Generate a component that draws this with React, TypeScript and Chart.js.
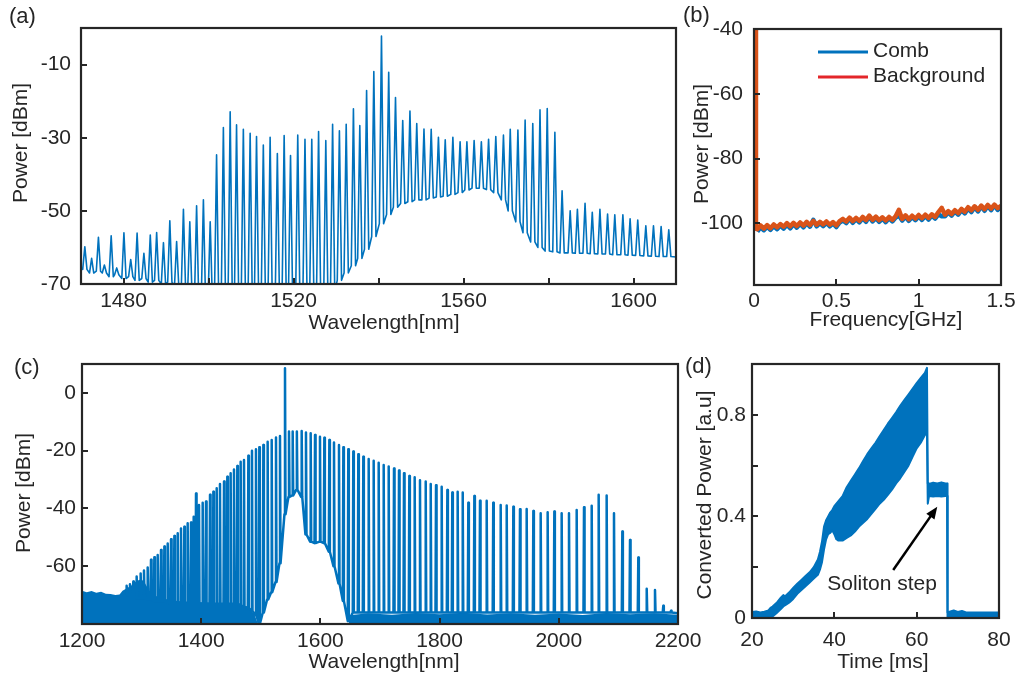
import React, { useEffect, useRef } from 'react';
import { Chart, registerables } from 'chart.js';

Chart.register(...registerables);

const BLUE = '#0072BD';
const ORANGE = '#D95319';
const RED = '#E3262A';
const INK = '#262626';
const FONT = "'Liberation Sans', Arial, Helvetica, sans-serif";

// ---------------- Panel (a): comb spectrum ----------------
const combA_nm = [1470.9,1472.5,1474.1,1475.5,1477.1,1478.4,1480.1,1481.7,1483.2,1484.8,1486.3,1487.8,1489.4,1490.9,1492.5,1494.1,1495.6,1497.2,1498.8,1500.4,
  1501.9,1503.5,1505.1,1506.6,1508.2,1509.8,1511.3,1512.9,1514.5,1516.2,1517.8,1519.3,1521.0,1522.7,1524.3,1525.9,1527.6,1529.2,1530.8,1532.4,
  1534.1,1535.6,1537.2,1538.9,1540.7,1542.4,1544.0,1545.7,1547.4,1549.0,1550.7,1552.4,1554.1,1555.7,1557.5,1559.2,1560.8,1562.5,1564.2,1565.9,1567.6,1569.4,1571.0,1572.8,1574.5,1576.3,1578.0,1579.7,1581.5,
  1583.2,1585.1,1586.8,1588.6,1590.3,1592.1,1593.9,1595.6,1597.5,1599.2,1601.0,1602.9,1604.7,1606.5,1608.3];
const combA_dBm = [-59.8,-63,-57.2,-64.8,-56.8,-65.6,-56,-63.3,-56.1,-61.6,-56.6,-55.9,-58.7,-52.7,-58.4,-49.6,-53,-48.6,-47,-53,
  -34.7,-27.2,-22.9,-26.5,-27.7,-28.8,-29.7,-32.0,-29.9,-34.3,-29.4,-34.9,-29.3,-30.4,-30.4,-28.3,-30.8,-26.3,-28.1,-26.3,
  -22.1,-26.7,-17.1,-11.9,-2.2,-12.1,-19.0,-25.3,-22.7,-26.1,-27.6,-27.7,-29.9,-30.6,-29.9,-31.1,-31.1,-30.8,-31.1,-30.4,-29.7,-29.3,-27.7,-27.9,-25.2,-26.1,-22.4,-22.0,-28.5,
  -44.5,-50.0,-49.6,-47.9,-50.4,-49.6,-50.9,-51.1,-51.1,-52.2,-52.5,-54.1,-54.1,-54.3,-55.2];
const floorA_dBm = [-66,-67,-66.5,-67,-68,-67.5,-68.5,-68,-69,-68.5,-69.5,-69,-70,-69.5,-70.5,-71,-72,-74,-74,-74,
  -74,-74,-74,-74,-74,-74,-74,-74,-74,-74,-74,-74,-74,-74,-74,-74,-74,-72,-69,-67,
  -65,-63,-60.5,-57,-53.5,-51,-49,-48,-47.5,-47,-47,-46.5,-46.2,-46,-45.5,-45,-44.3,-43.8,-43.8,-44.2,-45,-47,-50,-53,-56,-58.5,-60,-61,-61.2,
  -61.5,-61.5,-61.6,-61.6,-61.7,-61.8,-61.8,-62,-62,-62.1,-62.2,-62.3,-62.4,-62.5,-62.5];
const edgeA_nm = [1470, 1610];
const edgeA_dBm = [-65.5, -62.6];
const xTicksA = [1480, 1500, 1520, 1540, 1560, 1580, 1600];
const xLabelsA = ['1480', '', '1520', '', '1560', '', '1600'];
const yTicksA = [-70, -50, -30, -10];
const yLabelsA = ['-70', '-50', '-30', '-10'];

// ---------------- Panel (b): RF spectrum ----------------
const freqB = [0.02,0.04,0.06,0.08,0.10,0.12,0.14,0.16,0.18,0.20,0.22,0.24,0.26,0.28,0.30,0.32,0.34,0.36,0.38,0.40,
  0.42,0.44,0.46,0.48,0.50,0.52,0.54,0.56,0.58,0.60,0.62,0.64,0.66,0.68,0.70,0.72,0.74,0.76,0.78,0.80,
  0.82,0.84,0.86,0.88,0.90,0.92,0.94,0.96,0.98,1.00,1.02,1.04,1.06,1.08,1.10,1.12,1.14,1.16,1.18,1.20,
  1.22,1.24,1.26,1.28,1.30,1.32,1.34,1.36,1.38,1.40,1.42,1.44,1.46,1.48,1.50];
const backgroundB = [-101.8,-100.6,-101.6,-100.5,-101.5,-100.3,-101.2,-100.2,-101.0,-99.9,-100.9,-99.8,-100.8,-99.7,-100.7,-99.5,-100.5,-99.2,-100.4,-99.5,
  -100.3,-99.4,-100.4,-99.6,-100.6,-99.3,-98.6,-99.4,-98.2,-99.3,-98.3,-99.2,-98.0,-99.0,-97.6,-98.9,-97.9,-99.0,-98.1,-99.1,
  -98.0,-98.9,-97.8,-95.8,-98.6,-97.5,-98.7,-97.6,-98.5,-97.4,-98.4,-97.3,-98.3,-97.2,-98.0,-96.5,-95.2,-97.3,-96.2,-97.1,
  -95.9,-96.8,-95.5,-96.4,-95.0,-96.0,-94.7,-95.8,-94.5,-95.6,-94.3,-95.4,-94.2,-95.3,-94.6];
const combB = [-102.5,-101.2,-102.1,-101.0,-102.0,-100.8,-101.8,-100.6,-101.6,-100.4,-101.5,-100.2,-101.3,-100.1,-101.2,-99.9,-101.0,-98.9,-100.9,-99.9,
  -100.8,-99.8,-100.9,-100.0,-101.1,-99.7,-99.1,-99.9,-98.6,-99.8,-98.7,-99.7,-98.4,-99.5,-97.9,-99.4,-98.3,-99.5,-98.5,-99.6,
  -98.4,-99.4,-98.2,-97.5,-99.1,-97.9,-99.2,-98.0,-99.0,-97.8,-98.9,-97.7,-98.8,-97.6,-98.5,-97.2,-97.8,-97.8,-96.6,-97.6,
  -96.3,-97.3,-95.9,-96.9,-95.4,-96.5,-95.0,-96.3,-94.7,-96.1,-94.5,-95.9,-94.4,-95.8,-95.0];
const spikeB_freq = [0.01, 0.012];
const spikeB_dBm = [-40, -101.6];
const xTicksB = [0, 0.5, 1, 1.5];
const xLabelsB = ['0', '0.5', '1', '1.5'];
const yTicksB = [-100, -80, -60, -40];
const yLabelsB = ['-100', '-80', '-60', '-40'];

// ---------------- Panel (c): broadband comb ----------------
const combC_nm = [1274.9,1280.5,1286.1,1291.7,1298.4,1304.0,1310.2,1315.8,1321.4,1327.0,
  1332.6,1338.2,1343.8,1349.4,1355.0,1360.6,1366.1,1371.7,1377.3,1382.9,
  1387.4,1391.3,1396.3,1402.5,1408.1,1414.8,1420.4,1426.0,1431.5,1438.3,
  1443.8,1449.4,1455.0,1460.6,1466.2,1471.8,1479.1,1485.2,1491.9,1497.5,
  1504.3,1511.5,1518.3,1525.5,1532.2,1540.6,1547.3,1553.5,1560.5,1568.6,
  1575.8,1583.7,1591.0,1599.3,1606.6,1615.0,1622.8,1631.2,1638.5,1646.8,
  1655.2,1663.6,1672.0,1681.0,1689.4,1697.8,1706.2,1714.6,1723.5,1731.9,
  1740.3,1749.2,1758.2,1767.1,1776.7,1785.1,1794.0,1803.5,1813.0,1821.3,
  1830.3,1838.8,1848.2,1858.3,1867.8,1879.0,1890.0,1902.5,1912.6,1923.7,
  1934.9,1946.1,1957.3,1969.6,1981.3,1992.5,2004.8,2017.1,2030.0,2042.3,
  2055.2,2066.9,2080.3,2092.6,2106.6,2119.5,2133.4,2147.5,2161.4,2175.3,
  2188.3];
const combC_dBm = [-66.8,-66.2,-65.3,-63.6,-62.5,-61.5,-60.4,-57.8,-56.9,-56.1,
  -54.4,-53.2,-52.1,-50.7,-49.5,-48.6,-46.9,-46.3,-45.1,-44.9,
  -42.9,-34.8,-38.8,-38.0,-37.6,-35.3,-34.2,-33.0,-31.5,-30.7,
  -29.0,-27.8,-26.5,-25.3,-23.8,-23.2,-21.8,-20.0,-19.5,-18.8,
  -18.0,-16.9,-16.3,-15.4,-14.9,8.5,-13.4,-13.4,-13.4,-13.2,
  -13.7,-14.0,-14.6,-15.2,-15.5,-16.3,-17.2,-18.0,-18.8,-19.5,
  -20.3,-21.2,-22.1,-22.9,-23.5,-24.2,-25.0,-25.5,-26.2,-26.9,
  -27.8,-28.8,-29.2,-30.2,-30.7,-31.5,-32.0,-32.5,-33.6,-34.5,
  -34.2,-34.5,-38.0,-35.7,-37.3,-37.3,-38.0,-38.8,-39.0,-39.4,
  -40.3,-40.2,-40.9,-41.7,-41.3,-41.1,-41.7,-41.7,-40.5,-39.6,
  -39.1,-35.3,-35.5,-41.7,-48.0,-50.9,-57.0,-67.8,-68.2,-73.7,
  -75.4];
const floorC_dBm = [-70,-70,-70.5,-71,-71,-71,-71.5,-71.5,-72,-72,
  -72,-72,-72.5,-73,-73,-73,-73,-73,-73,-73,
  -73,-73,-73,-73,-73,-73,-73,-73,-73,-73,
  -73,-73,-73,-73,-73.5,-74,-74.5,-75.5,-77,-80,
  -76,-71.5,-69,-65.5,-59,-42,-36,-35.5,-33.5,-36,
  -49,-51.5,-52,-51.5,-52,-55,-60,-66,-72,-79,
  -76,-76,-76,-76,-76,-76,-76,-76,-76,-76,
  -76,-76,-76,-76,-76,-76,-76,-76,-76,-76,
  -76,-76,-76,-76,-76,-76,-76,-76,-76,-76,
  -76,-76,-76,-76,-76,-76,-76,-76,-76,-76,
  -76,-76,-76,-76,-76,-76,-76,-76,-76,-76,
  -76];
const edgeC_nm = [2200];
const edgeC_dBm = [-76.3];
const noiseC_nm = [1200,1208,1216,1224,1232,1240,1248,1256,1263,1268,1276,1284,1292,1300,1306,1314,1330,1360,1400,1450,1470,1482,1490,1496,1497,1646,1648,1680,1720,1760,1800,1840,1880,1920,1960,2000,2040,2080,2120,2160,2200];
const noiseC_dBm = [-68.5,-69,-68.6,-69.2,-68.8,-69.5,-69.6,-70,-69.8,-68.5,-67.5,-66.5,-65,-64.5,-66,-69,-71,-72,-72.5,-73,-73.5,-75,-77,-80.5,-95,-95,-77,-76.3,-76.8,-76.2,-76.6,-76.1,-76.7,-76.3,-76.8,-76.4,-76.9,-76.2,-76.6,-76.3,-76.8];
const xTicksC = [1200, 1400, 1600, 1800, 2000, 2200];
const xLabelsC = ['1200', '1400', '1600', '1800', '2000', '2200'];
const yTicksC = [-60, -40, -20, 0];
const yLabelsC = ['-60', '-40', '-20', '0'];

// ---------------- Panel (d): converted power trace ----------------
const timeD = [20,21,22,23,24,24.5,25,26,27,27.6,28,29,30,31,32,33,34,35,36,36.5,37,37.5,38,38.5,39,39.5,40,40.5,41,42,43,44,45,46,47,48,49,50,51,52,53,54,55,56,57,58,59,60,61,62,62.5,62.7,62.8,63,64,65,66,67,67.4,67.5,68,69,70,71,72,75,80];
const upperD = [0.024,0.026,0.022,0.025,0.03,0.04,0.045,0.06,0.08,0.09,0.085,0.1,0.118,0.135,0.15,0.165,0.18,0.2,0.23,0.26,0.3,0.36,0.385,0.4,0.415,0.425,0.44,0.45,0.46,0.48,0.515,0.54,0.565,0.59,0.618,0.645,0.668,0.69,0.715,0.74,0.765,0.787,0.81,0.835,0.858,0.88,0.902,0.925,0.945,0.965,0.985,0.53,0.532,0.528,0.533,0.53,0.534,0.53,0.53,0.022,0.025,0.03,0.024,0.028,0.022,0.022,0.022];
const lowerD = [0.004,0.005,0.003,0.005,0.002,0.0,0.006,0.02,0.035,0.045,0.05,0.06,0.075,0.095,0.11,0.125,0.14,0.155,0.17,0.19,0.22,0.27,0.31,0.33,0.335,0.345,0.33,0.31,0.305,0.305,0.315,0.325,0.34,0.36,0.375,0.39,0.41,0.43,0.45,0.465,0.485,0.505,0.53,0.55,0.575,0.6,0.635,0.668,0.69,0.72,0.73,0.45,0.46,0.48,0.478,0.48,0.478,0.48,0.48,0.0,0.005,0.008,0.005,0.006,0.005,0.005,0.005];
const arrowD = { tail: [54.3, 0.189], head: [65.0, 0.438] };
const noteD = { text: 'Soliton step', at: [51.6, 0.134] };
const xTicksD = [20, 40, 60, 80];
const xLabelsD = ['20', '40', '60', '80'];
const yTicksD = [0, 0.2, 0.4, 0.6, 0.8];
const yLabelsD = ['0', '', '0.4', '', '0.8'];

// ---------------- helpers ----------------
type Pt = { x: number; y: number };
function spikes(pos: number[], peak: number[], floor: number[], half: number): Pt[] {
  const out: Pt[] = [];
  pos.forEach((p, i) => {
    out.push({ x: p - half, y: floor[i] });
    out.push({ x: p, y: peak[i] });
    out.push({ x: p + half, y: floor[i] });
  });
  return out;
}
function zipPts(xs: number[], ys: number[]): Pt[] {
  return xs.map((x, i) => ({ x, y: ys[i] }));
}

type Txt = { text: string; x: number; y: number; rot?: number; align?: CanvasTextAlign; size?: number };

interface Spec {
  left: number; top: number; width: number; height: number;
  area: { l: number; t: number; r: number; b: number };
  xMin: number; xMax: number; yMin: number; yMax: number;
  xTicks: number[]; xLabels: string[]; yTicks: number[]; yLabels: string[];
  xPad: number; yPad: number;
  datasets: any[];
  texts: Txt[];
  extra?: (chart: any) => void;
}

function drawText(ctx: CanvasRenderingContext2D, t: Txt) {
  ctx.save();
  ctx.translate(t.x, t.y);
  if (t.rot) ctx.rotate(t.rot);
  ctx.font = `${t.size || 21}px ${FONT}`;
  ctx.fillStyle = INK;
  ctx.textAlign = t.align || 'center';
  ctx.textBaseline = 'middle';
  ctx.fillText(t.text, 0, 0);
  ctx.restore();
}

function buildConfig(s: Spec): any {
  const decor = {
    id: 'decor',
    afterDraw(chart: any) {
      const { ctx, chartArea: a, scales } = chart;
      ctx.save();
      ctx.strokeStyle = INK;
      ctx.lineWidth = 2;
      ctx.beginPath();
      scales.x.ticks.forEach((t: any) => {
        const px = Math.round(scales.x.getPixelForValue(t.value));
        ctx.moveTo(px, a.bottom);
        ctx.lineTo(px, a.bottom - 6);
      });
      scales.y.ticks.forEach((t: any) => {
        const py = Math.round(scales.y.getPixelForValue(t.value));
        ctx.moveTo(a.left, py);
        ctx.lineTo(a.left + 6, py);
      });
      ctx.stroke();
      ctx.lineWidth = 2.2;
      ctx.strokeRect(a.left, a.top, a.right - a.left, a.bottom - a.top);
      ctx.restore();
      s.texts.forEach((t) => drawText(ctx, t));
      if (s.extra) s.extra(chart);
    },
  };
  return {
    type: 'line',
    data: { datasets: s.datasets },
    options: {
      responsive: false,
      animation: false,
      devicePixelRatio: 1,
      events: [],
      layout: { padding: { left: 0, top: s.area.t, right: s.width - s.area.r, bottom: 0 } },
      elements: { point: { radius: 0 }, line: { tension: 0 } },
      plugins: { legend: { display: false }, tooltip: { enabled: false } },
      scales: {
        x: {
          type: 'linear', min: s.xMin, max: s.xMax,
          grid: { display: false, drawTicks: false },
          border: { display: false },
          ticks: {
            autoSkip: false, maxRotation: 0, padding: s.xPad, color: INK,
            font: { family: FONT, size: 21 },
            callback: (_v: any, i: number) => s.xLabels[i],
          },
          afterBuildTicks: (sc: any) => { sc.ticks = s.xTicks.map((v) => ({ value: v })); },
          afterFit: (sc: any) => { sc.height = s.height - s.area.b; sc.paddingLeft = 0; sc.paddingRight = 0; },
        },
        y: {
          type: 'linear', min: s.yMin, max: s.yMax,
          grid: { display: false, drawTicks: false },
          border: { display: false },
          ticks: {
            autoSkip: false, padding: s.yPad, color: INK,
            font: { family: FONT, size: 21 },
            callback: (_v: any, i: number) => s.yLabels[i],
          },
          afterBuildTicks: (sc: any) => { sc.ticks = s.yTicks.map((v) => ({ value: v })); },
          afterFit: (sc: any) => { sc.width = s.area.l; sc.paddingTop = 0; sc.paddingBottom = 0; },
        },
      },
    },
    plugins: [decor],
  };
}

const lineDs = (data: Pt[], color: string, width: number, extra: any = {}) => ({
  data, borderColor: color, backgroundColor: color, borderWidth: width, pointRadius: 0,
  fill: false, borderJoinStyle: 'round', ...extra,
});

const rotL = -Math.PI / 2;

const SPECS: Spec[] = [
  {
    left: 0, top: 0, width: 700, height: 345,
    area: { l: 81, t: 28, r: 676, b: 284 },
    xMin: 1470, xMax: 1610, yMin: -70, yMax: 0,
    xTicks: xTicksA, xLabels: xLabelsA, yTicks: yTicksA, yLabels: yLabelsA,
    xPad: 5, yPad: 10,
    datasets: [
      lineDs([
        { x: edgeA_nm[0], y: edgeA_dBm[0] },
        ...spikes(combA_nm, combA_dBm, floorA_dBm, 0.5),
        { x: edgeA_nm[1], y: edgeA_dBm[1] },
      ], BLUE, 1.6),
    ],
    texts: [
      { text: '(a)', x: 9, y: 17, align: 'left', size: 22 },
      { text: 'Power [dBm]', x: 21, y: 143, rot: rotL },
      { text: 'Wavelength[nm]', x: 384, y: 323 },
    ],
  },
  {
    left: 680, top: 0, width: 338, height: 345,
    area: { l: 74, t: 29, r: 321, b: 285 },
    xMin: 0, xMax: 1.5, yMin: -119, yMax: -40,
    xTicks: xTicksB, xLabels: xLabelsB, yTicks: yTicksB, yLabels: yLabelsB,
    xPad: 4, yPad: 11,
    datasets: [
      lineDs([...zipPts(spikeB_freq, spikeB_dBm), ...zipPts(freqB, backgroundB)], ORANGE, 4.5),
      lineDs(zipPts(freqB, combB), BLUE, 4.5),
    ],
    texts: [
      { text: '(b)', x: 3, y: 16, align: 'left', size: 22 },
      { text: 'Power [dBm]', x: 22, y: 144, rot: rotL },
      { text: 'Frequency[GHz]', x: 206, y: 320 },
      { text: 'Comb', x: 193, y: 51, align: 'left' },
      { text: 'Background', x: 193, y: 76, align: 'left' },
    ],
    extra: (chart: any) => {
      const ctx = chart.ctx as CanvasRenderingContext2D;
      ctx.save();
      ctx.lineWidth = 3;
      ctx.strokeStyle = BLUE;
      ctx.beginPath(); ctx.moveTo(138, 52); ctx.lineTo(188, 52); ctx.stroke();
      ctx.strokeStyle = RED;
      ctx.beginPath(); ctx.moveTo(138, 77); ctx.lineTo(188, 77); ctx.stroke();
      ctx.restore();
    },
  },
  {
    left: 0, top: 340, width: 705, height: 341,
    area: { l: 82, t: 24, r: 678, b: 284 },
    xMin: 1200, xMax: 2200, yMin: -80, yMax: 10,
    xTicks: xTicksC, xLabels: xLabelsC, yTicks: yTicksC, yLabels: yLabelsC,
    xPad: 5, yPad: 6,
    datasets: [
      lineDs([...spikes(combC_nm, combC_dBm, floorC_dBm, 0.9), ...zipPts(edgeC_nm, edgeC_dBm)], BLUE, 2.5),
      lineDs(zipPts(noiseC_nm, noiseC_dBm), BLUE, 0, { fill: 'start', backgroundColor: BLUE }),
    ],
    texts: [
      { text: '(c)', x: 14, y: 28, align: 'left', size: 22 },
      { text: 'Power [dBm]', x: 24, y: 153, rot: rotL },
      { text: 'Wavelength[nm]', x: 384, y: 322 },
    ],
  },
  {
    left: 680, top: 340, width: 338, height: 341,
    area: { l: 72, t: 24, r: 319, b: 278 },
    xMin: 20, xMax: 80, yMin: 0, yMax: 1,
    xTicks: xTicksD, xLabels: xLabelsD, yTicks: yTicksD, yLabels: yLabelsD,
    xPad: 10, yPad: 6,
    datasets: [
      lineDs(zipPts(timeD, upperD), BLUE, 2),
      lineDs(zipPts(timeD, lowerD), BLUE, 2, { fill: '-1', backgroundColor: BLUE }),
    ],
    texts: [
      { text: '(d)', x: 5, y: 27, align: 'left', size: 22 },
      { text: 'Converted Power [a.u]', x: 25, y: 155, rot: rotL },
      { text: 'Time [ms]', x: 203, y: 322 },
    ],
    extra: (chart: any) => {
      const ctx = chart.ctx as CanvasRenderingContext2D;
      const xs = chart.scales.x, ys = chart.scales.y;
      const x1 = xs.getPixelForValue(arrowD.tail[0]), y1 = ys.getPixelForValue(arrowD.tail[1]);
      const x2 = xs.getPixelForValue(arrowD.head[0]), y2 = ys.getPixelForValue(arrowD.head[1]);
      const ang = Math.atan2(y2 - y1, x2 - x1);
      const hl = 12, hw = 5;
      ctx.save();
      ctx.strokeStyle = '#000';
      ctx.fillStyle = '#000';
      ctx.lineWidth = 2.5;
      ctx.beginPath();
      ctx.moveTo(x1, y1);
      ctx.lineTo(x2 - hl * 0.8 * Math.cos(ang), y2 - hl * 0.8 * Math.sin(ang));
      ctx.stroke();
      ctx.beginPath();
      ctx.moveTo(x2, y2);
      ctx.lineTo(x2 - hl * Math.cos(ang) + hw * Math.sin(ang), y2 - hl * Math.sin(ang) - hw * Math.cos(ang));
      ctx.lineTo(x2 - hl * Math.cos(ang) - hw * Math.sin(ang), y2 - hl * Math.sin(ang) + hw * Math.cos(ang));
      ctx.closePath();
      ctx.fill();
      ctx.restore();
      drawText(ctx, { text: noteD.text, x: xs.getPixelForValue(noteD.at[0]), y: ys.getPixelForValue(noteD.at[1]) });
    },
  },
];

function Panel({ spec }: { spec: Spec }) {
  const ref = useRef<HTMLCanvasElement>(null);
  useEffect(() => {
    const chart = new Chart(ref.current as HTMLCanvasElement, buildConfig(spec));
    return () => chart.destroy();
  }, [spec]);
  return (
    <canvas
      ref={ref}
      width={spec.width}
      height={spec.height}
      style={{ position: 'absolute', left: spec.left, top: spec.top, width: spec.width, height: spec.height }}
    />
  );
}

export default function App() {
  return (
    <div style={{ position: 'absolute', left: 0, top: 0, width: 1018, height: 681, background: '#fff', overflow: 'hidden' }}>
      {SPECS.map((s, i) => (
        <Panel key={i} spec={s} />
      ))}
    </div>
  );
}
